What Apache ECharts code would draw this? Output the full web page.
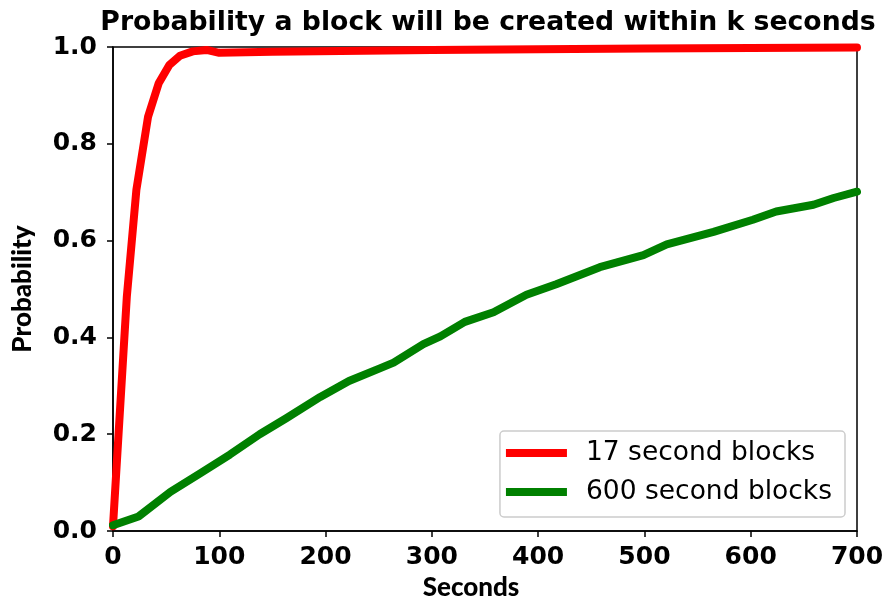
<!DOCTYPE html>
<html>
<head>
<meta charset="utf-8">
<script src="https://cdn.jsdelivr.net/npm/echarts@6/dist/echarts.min.js"></script>
<style>
  html, body { margin: 0; padding: 0; background: #fff; }
  #chart { width: 891px; height: 599px; }
</style>
</head>
<body>
<div id="chart"></div>
<script>
// Cumulative probability that a block has appeared after k seconds
const seconds17 = [0, 13, 22, 33, 43, 53, 63, 75, 88, 100, 150, 300, 500, 700];
const prob17 = [0.01, 0.484, 0.705, 0.856, 0.925, 0.963, 0.982, 0.991, 0.994, 0.988, 0.99, 0.994, 0.997, 0.999];

const seconds600 = [0, 24, 54, 82, 110, 138, 163, 195, 222, 251, 264, 292, 308, 331, 358, 389, 417, 458, 499, 521, 565, 602, 624, 659, 678, 700];
const prob600 = [0.012, 0.03, 0.081, 0.119, 0.158, 0.2, 0.233, 0.277, 0.31, 0.336, 0.348, 0.386, 0.402, 0.432, 0.452, 0.488, 0.51, 0.545, 0.57, 0.592, 0.618, 0.643, 0.66, 0.674, 0.688, 0.701];

const xTicks = [0, 100, 200, 300, 400, 500, 600, 700];
const yTicks = [0.0, 0.2, 0.4, 0.6, 0.8, 1.0];

const pairs = (xs, ys) => xs.map((x, i) => [x, ys[i]]);

const FONT = 'DejaVu Sans';
const NAME_FONT = 'Lato';
const chart = echarts.init(document.getElementById('chart'), null, { renderer: 'canvas' });

chart.setOption({
  backgroundColor: '#ffffff',
  animation: false,
  title: {
    text: 'Probability a block will be created within k seconds',
    left: 483,
    top: 5,
    textAlign: 'center',
    textStyle: { fontFamily: FONT, fontWeight: 'bold', fontSize: 26.7, color: '#000' }
  },
  grid: {
    left: 113, right: 34, top: 47, bottom: 68,
    outerBoundsMode: 'none',
    containLabel: false,
    show: true, borderColor: '#000', borderWidth: 1.5, backgroundColor: 'transparent'
  },
  legend: {
    orient: 'vertical',
    right: 46,
    top: 431,
    padding: [7, 13, 10, 6],
    itemGap: 9,
    itemWidth: 61,
    itemHeight: 8,
    icon: 'rect',
    borderColor: '#cccccc',
    borderWidth: 1.5,
    borderRadius: 4,
    backgroundColor: '#fff',
    textStyle: { fontFamily: FONT, fontSize: 26.5, color: '#000', padding: [0, 0, 0, 14], lineHeight: 30 },
    data: ['17 second blocks', '600 second blocks']
  },
  xAxis: {
    type: 'value',
    min: 0, max: 700, interval: 100,
    name: 'Seconds',
    nameLocation: 'middle',
    nameGap: 42,
    nameTextStyle: { fontFamily: NAME_FONT, fontWeight: 900, fontSize: 26, color: '#000', padding: [0, 28, 0, 0] },
    axisLine: { show: true, lineStyle: { color: '#000', width: 1.5 } },
    axisTick: { show: true, inside: false, length: 6, lineStyle: { color: '#000', width: 1.5 } },
    axisLabel: {
      margin: 14, fontFamily: FONT, fontWeight: 'bold', fontSize: 25, color: '#000',
      formatter: v => xTicks.includes(v) ? String(v) : ''
    },
    splitLine: { show: false }
  },
  yAxis: {
    type: 'value',
    min: 0, max: 1, interval: 0.2,
    name: 'Probability',
    nameLocation: 'middle',
    nameGap: 77,
    nameTextStyle: { fontFamily: NAME_FONT, fontWeight: 900, fontSize: 26, color: '#000' },
    axisLine: { show: true, lineStyle: { color: '#000', width: 1.5 } },
    axisTick: { show: true, inside: false, length: 6, lineStyle: { color: '#000', width: 1.5 } },
    axisLabel: {
      margin: 16, fontFamily: FONT, fontWeight: 'bold', fontSize: 25, color: '#000',
      formatter: v => {
        const t = yTicks.find(y => Math.abs(y - v) < 1e-9);
        return t === undefined ? '' : t.toFixed(1);
      }
    },
    splitLine: { show: false }
  },
  series: [
    {
      name: '17 second blocks',
      type: 'line',
      data: pairs(seconds17, prob17),
      showSymbol: false,
      symbol: 'none',
      clip: false,
      lineStyle: { color: '#ff0000', width: 8, cap: 'round', join: 'round' },
      itemStyle: { color: '#ff0000' }
    },
    {
      name: '600 second blocks',
      type: 'line',
      data: pairs(seconds600, prob600),
      showSymbol: false,
      symbol: 'none',
      lineStyle: { color: '#008000', width: 8, cap: 'round', join: 'round' },
      itemStyle: { color: '#008000' }
    }
  ]
});
</script>
</body>
</html>
